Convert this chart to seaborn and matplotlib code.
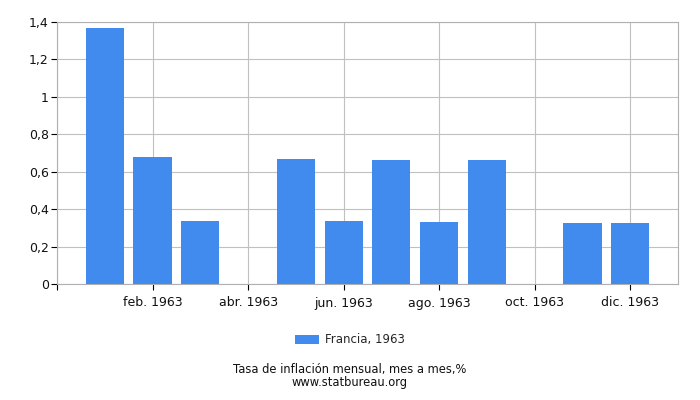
import numpy as np
import pandas as pd
import matplotlib
matplotlib.use("Agg")
import matplotlib.pyplot as plt
import seaborn as sns

months = ["ene.", "feb.", "mar.", "abr.", "may.", "jun.",
          "jul.", "ago.", "sept.", "oct.", "nov.", "dic."]
values = [1.37, 0.68, 0.335, 0.0, 0.67, 0.335,
          0.665, 0.33, 0.66, 0.0, 0.325, 0.325]
year = "1963"
series_label = "Francia, 1963"
y_ticks = [0, 0.2, 0.4, 0.6, 0.8, 1.0, 1.2, 1.4]

df = pd.DataFrame({"mes": [m + " " + year for m in months], "valor": values})

sns.set_style("white")
plt.rcParams["font.family"] = ["DejaVu Sans"]

fig = plt.figure(figsize=(7, 4), dpi=100)
ax = fig.add_axes([57 / 700, 116 / 400, 621 / 700, 262 / 400])

sns.barplot(data=df, x="mes", y="valor", color="#428bee", saturation=1,
            width=0.8, linewidth=0, label=series_label, ax=ax, zorder=3)

ax.set_xlim(-1, 12)
ax.set_ylim(0, 1.4)

xt = [-1] + list(range(1, 12, 2))
ax.set_xticks(xt)
ax.set_xticklabels([""] + [df["mes"][i] for i in range(1, 12, 2)], fontsize=9)
ax.set_yticks(y_ticks)
ax.set_yticklabels([("%g" % v).replace(".", ",") for v in y_ticks], fontsize=9)

ax.grid(True, color="#c0c0c0", linewidth=0.8, zorder=0)
ax.set_axisbelow(True)
for s in ax.spines.values():
    s.set_color("#b0b0b0")
    s.set_linewidth(0.8)
ax.tick_params(axis="both", direction="out", length=4, width=0.8,
               color="#000000", labelcolor="#111111", bottom=True, left=True)
ax.tick_params(axis="x", pad=5)
ax.tick_params(axis="y", pad=2)
ax.set_xlabel("")
ax.set_ylabel("")

ax.legend(loc="center", bbox_to_anchor=(350 / 700, 60 / 400),
          bbox_transform=fig.transFigure, frameon=False, fontsize=8.5,
          handlelength=2.0, handleheight=0.8, handletextpad=0.5)

# titulo y fuente en un solo bloque de dos lineas
fig.text(0.5, 24 / 400, "Tasa de inflación mensual, mes a mes,%\nwww.statbureau.org",
         ha="center", va="center", fontsize=8.3, color="#111111",
         linespacing=0.95)

fig.savefig("out.png", dpi=100)
